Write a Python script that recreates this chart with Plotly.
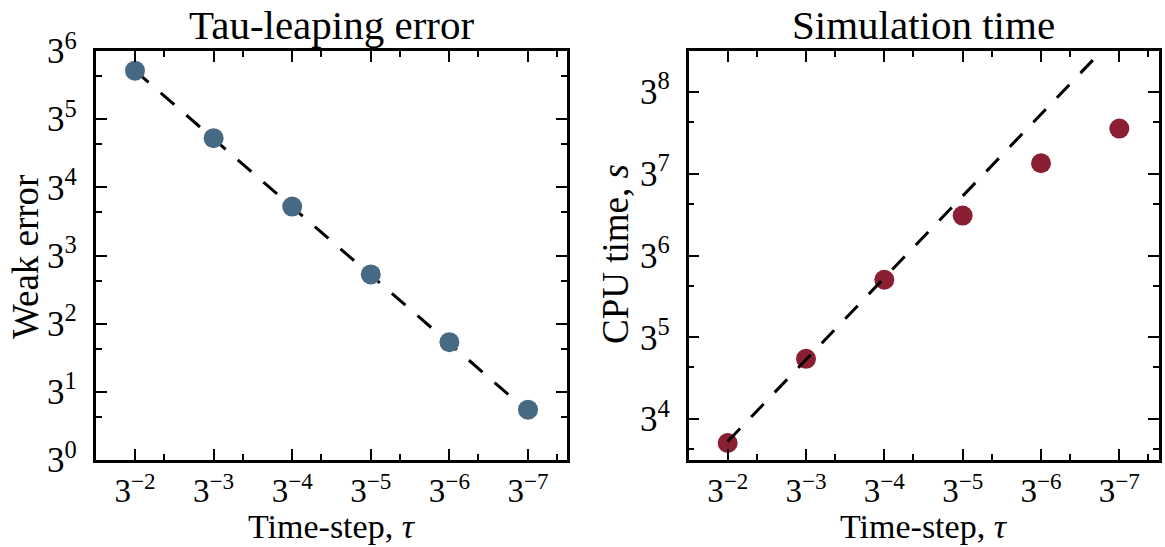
import numpy as np
import plotly.graph_objects as go

# ---- data ----
tau_exp = [-2, -3, -4, -5, -6, -7]
tau = [3.0 ** e for e in tau_exp]
tick_labels = ["3<sup>−2</sup>", "3<sup>−3</sup>", "3<sup>−4</sup>", "3<sup>−5</sup>", "3<sup>−6</sup>", "3<sup>−7</sup>"]
weak_error = [531, 179, 59.4, 19.9, 6.68, 2.25]
cpu_time = [58.8, 182, 526, 1246, 2518, 4007]
ref_err = [weak_error[0] * t / tau[0] for t in tau]       # slope 1 reference
ref_cpu = [cpu_time[0] * 1.02 * tau[0] / t for t in tau]  # slope -1 reference

left_y_exp = [0, 1, 2, 3, 4, 5, 6]
right_y_exp = [4, 5, 6, 7, 8]

BLUE = "#466a83"
RED = "#8a1f33"
FONT = "Liberation Serif, DejaVu Serif, serif"

fig = go.Figure()

fig.add_trace(go.Scatter(x=tau, y=ref_err, mode="lines",
                         line=dict(color="black", width=3, dash="18px,16px"),
                         xaxis="x", yaxis="y", showlegend=False))
fig.add_trace(go.Scatter(x=tau, y=weak_error, mode="markers",
                         marker=dict(color=BLUE, size=20, line=dict(width=0)),
                         xaxis="x", yaxis="y", showlegend=False, cliponaxis=False))
fig.add_trace(go.Scatter(x=tau, y=cpu_time, mode="markers",
                         marker=dict(color=RED, size=20, line=dict(width=0)),
                         xaxis="x2", yaxis="y2", showlegend=False, cliponaxis=False))
fig.add_trace(go.Scatter(x=tau, y=ref_cpu, mode="lines",
                         line=dict(color="black", width=3, dash="18px,16px"),
                         xaxis="x2", yaxis="y2", showlegend=False))

L3 = np.log10(3.0)
xminor = [2 * 3.0 ** e for e in range(-8, -1)]

def xaxis(domain, anchor):
    return dict(type="log", domain=domain, anchor=anchor, automargin=False,
                range=[-1.5 * L3, -7.5 * L3],
                tickmode="array", tickvals=tau, ticktext=tick_labels,
                ticks="inside", ticklen=11, tickwidth=1.7, tickcolor="black",
                showline=True, linecolor="black", linewidth=2.7, mirror="ticks",
                showgrid=False, zeroline=False, ticklabelstandoff=0,
                tickfont=dict(family=FONT, size=33, color="black"),
                minor=dict(tickmode="array", tickvals=xminor, ticks="inside",
                           ticklen=6, tickwidth=1.7, tickcolor="black", showgrid=False))

def yaxis(domain, anchor, exps, rng, lo, hi):
    return dict(type="log", domain=domain, anchor=anchor, automargin=False,
                range=[rng[0] * L3, rng[1] * L3],
                tickmode="array", tickvals=[3.0 ** e for e in exps],
                ticktext=["3<sup>%d</sup>" % e for e in exps],
                ticks="inside", ticklen=11, tickwidth=1.7, tickcolor="black",
                showline=True, linecolor="black", linewidth=2.7, mirror="ticks",
                showgrid=False, zeroline=False, ticklabelstandoff=9,
                tickfont=dict(family=FONT, size=35, color="black"),
                minor=dict(tickmode="array", tickvals=[2 * 3.0 ** e for e in range(lo, hi)],
                           ticks="inside", ticklen=6, tickwidth=1.7, tickcolor="black",
                           showgrid=False))

W, H = 1165, 547
ydom = [1 - 460 / H, 1 - 51 / H]
LX = [95.7, 567.3]
RX = [688.5, 1158.5]
fig.update_layout(
    width=W, height=H, margin=dict(l=0, r=0, t=0, b=0),
    paper_bgcolor="white", plot_bgcolor="white",
    xaxis=xaxis([LX[0] / W, LX[1] / W], "y"),
    yaxis=yaxis(ydom, "x", left_y_exp, [0, 6], 0, 6),
    xaxis2=xaxis([RX[0] / W, RX[1] / W], "y2"),
    yaxis2=yaxis(ydom, "x2", right_y_exp, [3.5, 8.5], 3, 9),
)

ann = [
    dict(text="Tau-leaping error", x=sum(LX) / 2 / W, y=1 - 24.5 / H, size=41),
    dict(text="Simulation time", x=sum(RX) / 2 / W, y=1 - 24.5 / H, size=41),
    dict(text="Time-step, <i>τ</i>", x=sum(LX) / 2 / W, y=1 - 526 / H, size=34),
    dict(text="Time-step, <i>τ</i>", x=sum(RX) / 2 / W, y=1 - 526 / H, size=34),
]
for a in ann:
    fig.add_annotation(text=a["text"], x=a["x"], y=a["y"], xref="paper", yref="paper",
                       showarrow=False, xanchor="center", yanchor="middle",
                       font=dict(family=FONT, size=a["size"], color="black"))
fig.add_annotation(text="Weak error", x=25 / W, y=1 - 257 / H, xref="paper", yref="paper",
                   showarrow=False, textangle=-90, xanchor="center", yanchor="middle",
                   font=dict(family=FONT, size=37, color="black"))
fig.add_annotation(text="CPU time, <i>s</i>", x=616 / W, y=1 - 254 / H, xref="paper", yref="paper",
                   showarrow=False, textangle=-90, xanchor="center", yanchor="middle",
                   font=dict(family=FONT, size=37, color="black"))

fig.write_html("out.html")
